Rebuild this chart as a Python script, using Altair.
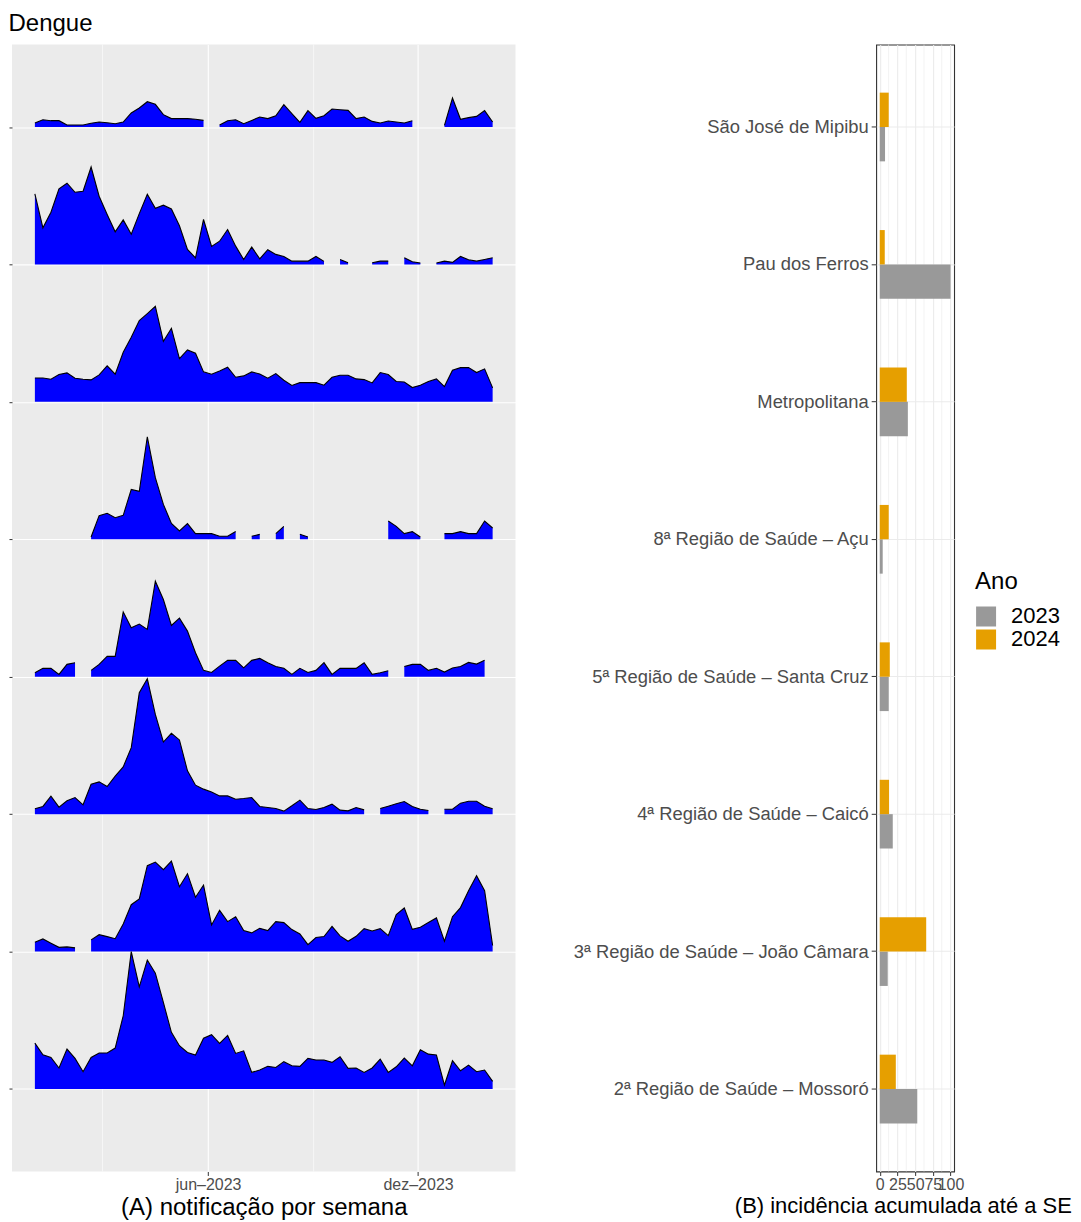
import altair as alt
import pandas as pd

# ---------------- data ----------------
# regions, bottom row first (ridge index 1..8)
regions = [
    "2ª Região de Saúde – Mossoró",
    "3ª Região de Saúde – João Câmara",
    "4ª Região de Saúde – Caicó",
    "5ª Região de Saúde – Santa Cruz",
    "8ª Região de Saúde – Açu",
    "Metropolitana",
    "Pau dos Ferros",
    "São José de Mipibu",
]

# epidemiological weeks (week start dates)
weeks = pd.date_range("2023-01-01", periods=58, freq="7D").strftime("%Y-%m-%d").tolist()

# weekly notifications, relative ridge height (% of row spacing); None = no data
mos = [33.4,24.9,23.0,15.3,29.1,22.3,12.6,23.0,26.2,26.2, 29.8,53.3,100.0,74.3,93.9,84.3,63.0,41.2,31.5,26.6,
       24.7,37.0,39.5,33.2,39.0,25.9,27.8,12.1,13.8,16.5, 15.7,19.9,16.9,16.5,22.3,21.1,21.1,19.4,23.5,15.0,
       15.3,12.1,15.3,21.8,12.1,16.2,22.5,16.9,28.6,25.4, 24.7,2.9,20.6,13.3,17.4,12.6,13.8,5.6]
jca = [6.8,9.2,6.1,3.1,3.4,2.7,None,8.5,12.3,10.9, 9.4,20.1,34.1,38.3,62.5,65.1,59.6,65.9,47.2,56.7,
       39.5,48.4,19.4,30.0,21.8,25.4,15.3,13.6,16.9,15.3, 21.8,21.1,16.0,12.8,5.1,10.2,10.9,18.4,11.4,7.5,
       11.1,16.7,15.0,16.7,11.6,26.9,31.7,16.2,17.7,21.1, 24.5,7.5,25.4,32.0,44.3,55.2,44.3,4.4]
cai = [3.9,5.6,13.1,5.1,9.7,12.1,6.8,21.8,23.5,20.1, 27.6,34.4,48.4,88.4,98.5,72.6,52.5,58.8,54.0,31.5,
       21.1,18.2,16.2,13.3,13.3,10.9,11.4,12.1,5.6,4.8, 4.1,2.2,6.1,10.2,4.1,3.4,4.8,7.3,2.9,2.4,
       4.8,3.1,None,4.1,5.8,7.5,9.2,5.6,3.6,2.7, None,3.6,3.6,8.0,9.4,9.4,5.8,3.9]
scz = [2.9,6.1,6.1,1.7,9.0,10.2,None,4.6,9.0,14.8, 14.8,47.2,35.6,38.3,34.4,69.5,56.2,37.3,42.6,33.2,
       17.4,4.6,3.1,7.7,11.9,11.9,6.5,11.9,13.3,10.2, 7.5,6.1,1.7,6.1,3.1,4.6,10.2,1.7,6.1,6.1,
       6.1,10.2,1.7,2.9,4.4,None,7.5,9.0,9.0,4.6, 6.1,3.4,6.3,7.5,10.4,9.2,11.9,None]
acu = [None,2.4,None,5.6,None,3.6,None,1.7,17.2,18.9, 15.7,17.4,36.3,34.9,74.6,44.8,25.4,11.6,6.1,11.4,
       4.1,4.1,4.1,2.2,2.2,5.6,None,2.2,3.6,None, 4.1,9.4,None,3.6,1.7,None,3.6,None,None,None,
       3.6,None,3.6,None,13.3,9.4,4.1,5.6,1.7,None, None,4.1,4.1,5.6,4.1,4.1,13.3,8.2]
met = [17.4,17.4,16.5,19.9,21.1,17.2,16.5,16.0,19.6,26.2, 20.1,36.1,47.0,59.1,64.2,69.5,44.1,53.5,31.5,37.8,
       35.4,21.8,20.1,22.5,25.2,17.9,18.9,21.8,20.3,17.2, 20.6,15.7,11.9,14.0,14.0,14.0,12.1,17.9,19.4,19.4,
       16.7,16.2,13.8,21.3,19.9,14.8,14.5,10.4,12.1,14.8, 16.7,11.1,23.0,24.9,24.9,21.3,24.0,10.2]
pdf_ = [51.3,26.6,38.0,55.0,59.1,52.5,53.3,70.9,49.6,36.3, 23.7,32.4,22.0,37.0,51.1,40.9,43.1,40.4,28.1,10.9,
        4.8,32.7,13.1,16.9,25.4,13.3,3.6,12.6,4.1,10.7, 7.3,5.8,2.4,2.4,2.4,5.8,2.2,None,3.6,1.2,
        None,None,1.2,2.4,2.4,None,4.8,1.9,1.0,None, 1.0,2.4,1.5,5.8,3.4,2.4,3.6,4.8]
sjm = [2.9,5.3,4.6,4.6,1.5,1.5,1.5,2.7,3.6,3.1, 2.4,3.6,10.2,13.8,18.4,16.5,9.0,6.1,6.1,6.1,
       5.6,4.8,None,1.5,4.6,5.3,2.4,4.8,7.3,6.1, 8.2,16.2,9.7,3.4,11.9,6.3,8.2,13.1,12.6,12.1,
       6.1,7.3,4.1,2.9,4.4,3.6,2.9,4.6,None,4.1, None,1.2,21.1,5.6,6.8,7.7,11.9,3.6]
series = [mos, jca, cai, scz, acu, met, pdf_, sjm]

# cumulative incidence (same region order)
inc_2023 = [53.0, 11.3, 18.4, 12.7, 4.2, 39.7, 100.0, 7.5]
inc_2024 = [22.7, 65.6, 13.2, 14.2, 12.7, 38.2, 7.1, 12.7]
anos = ["2023", "2024"]
ano_colors = ["#999999", "#E69F00"]

tick_dates = ["2023-06-01", "2023-12-01"]
tick_labels = ["jun–2023", "dez–2023"]
minor_dates = ["2023-03-01", "2023-09-01"]
inc_ticks = [0, 25, 50, 75, 100]
inc_minor = [12.5, 37.5, 62.5, 87.5]

FONT = "Liberation Sans"

# ---------------- tables ----------------
rows = []
for k, (reg, vals) in enumerate(zip(regions, series)):
    idx = k + 1
    for d, v in zip(weeks, vals):
        rows.append({"region": reg, "date": d, "y0": idx,
                     "y": (idx + v / 100.0) if v is not None else None})
ridge_df = pd.DataFrame(rows)

bar_rows = []
for reg, a, b in zip(regions, inc_2023, inc_2024):
    bar_rows.append({"region": reg, "Ano": anos[0], "inc": a})
    bar_rows.append({"region": reg, "Ano": anos[1], "inc": b})
bar_df = pd.DataFrame(bar_rows)

def ms(s):
    return int(pd.Timestamp(s, tz="UTC").value // 10**6)

t0, t1 = pd.Timestamp(weeks[0], tz="UTC"), pd.Timestamp(weeks[-1], tz="UTC")
pad = (t1 - t0) * 0.05
x_domain = [int((t0 - pad).value // 10**6), int((t1 + pad).value // 10**6)]
tick_ts = [ms(d) for d in tick_dates]
label_expr = ""
for ts, lab in zip(tick_ts, tick_labels):
    label_expr += f"time(datum.value) == {ts} ? '{lab}' : "
label_expr += "''"

# ---------------- left panel: ridgelines ----------------
xscale = alt.Scale(type="utc", domain=x_domain)
xaxis_left = alt.Axis(values=tick_ts, labelExpr=label_expr, grid=True,
                      gridColor="white", gridWidth=1.1, domain=False,
                      tickColor="#333333", tickSize=4, tickWidth=1,
                      labelColor="#4D4D4D", labelFontSize=16, labelPadding=1,
                      labelFlush=False, labelOverlap=False,
                      title="(A) notificação por semana", titleFontSize=24,
                      titleFontWeight="normal", titleColor="black", titlePadding=3)
yscale = alt.Scale(domain=[0.4, 8.6], nice=False, zero=False)
yaxis_left = alt.Axis(values=list(range(1, 9)), labels=False, grid=True,
                      gridColor="white", gridWidth=1.1, domain=False,
                      tickColor="#333333", tickSize=3, tickWidth=1, title=None)

base = alt.Chart(ridge_df)

minor_left = alt.Chart(pd.DataFrame({"date": minor_dates})).mark_rule(
    color="white", strokeWidth=0.6
).encode(x=alt.X("date:T", scale=xscale, axis=xaxis_left))

area = base.mark_area(color="#0000FF", invalid="break-paths-show-domains").encode(
    x=alt.X("date:T", scale=xscale, axis=xaxis_left),
    y=alt.Y("y:Q", scale=yscale, axis=yaxis_left),
    y2="y0:Q",
    detail="region:N",
)
ridge_line = base.mark_line(color="black", strokeWidth=1.1,
                            invalid="break-paths-show-domains").encode(
    x=alt.X("date:T", scale=xscale, axis=xaxis_left),
    y=alt.Y("y:Q", scale=yscale, axis=yaxis_left),
    detail="region:N",
)
left = alt.layer(minor_left, area, ridge_line).properties(
    width=504, height=1128,
    view=alt.ViewBackground(fill="#EBEBEB", strokeWidth=0),
)

# ---------------- right panel: bars ----------------
top_to_bottom = regions[::-1]
xinc = alt.Scale(domain=[-5, 105], nice=False, zero=False)
xaxis_right = alt.Axis(values=inc_ticks, grid=True, gridColor="#EBEBEB", gridWidth=1.1,
                       domain=False, tickColor="#333333", tickSize=4, tickWidth=1,
                       labelColor="#4D4D4D", labelFontSize=16, labelPadding=1,
                       labelFlush=False, labelOverlap=False,
                       title="(B) incidência acumulada até a SE", titleFontSize=22,
                       titleFontWeight="normal", titleColor="black", titlePadding=3,
                       titleAlign="left", titleX=-142)

minor_right = alt.Chart(pd.DataFrame({"inc": inc_minor})).mark_rule(
    color="#EBEBEB", strokeWidth=0.6
).encode(x=alt.X("inc:Q", scale=xinc, axis=xaxis_right))

bars = alt.Chart(bar_df).mark_bar().encode(
    x=alt.X("inc:Q", scale=xinc, stack=False, axis=xaxis_right),
    y=alt.Y("region:N", sort=top_to_bottom,
            scale=alt.Scale(paddingInner=0, paddingOuter=0.1),
            axis=alt.Axis(title=None, labelFontSize=18.4, labelColor="#4D4D4D",
                          labelPadding=3, labelLimit=0, tickColor="#333333", tickSize=5,
                          tickWidth=1, grid=True, gridColor="#EBEBEB", gridWidth=1.1,
                          domain=False, bandPosition=0.5)),
    yOffset=alt.YOffset("Ano:N", sort=anos[::-1],
                        scale=alt.Scale(paddingInner=0, paddingOuter=1)),
    color=alt.Color("Ano:N", scale=alt.Scale(domain=anos, range=ano_colors),
                    legend=alt.Legend(title="Ano", orient="none", legendX=964, legendY=526,
                                      titleFontSize=24, titleFontWeight="normal",
                                      titleColor="black", labelFontSize=22,
                                      labelColor="black", symbolType="square",
                                      symbolSize=400, symbolStrokeWidth=0,
                                      labelOffset=14, titlePadding=12, rowPadding=0,
                                      clipHeight=21)),
)
right = alt.layer(minor_right, bars).properties(
    width=78, height=1128,
    view=alt.ViewBackground(fill="white", stroke="#333333", strokeWidth=1.1),
)

chart = alt.hconcat(left, right, spacing=57).properties(
    title=alt.TitleParams("Dengue", anchor="start", fontSize=24, fontWeight="normal",
                          color="black", offset=8),
    padding={"left": 0, "top": 3, "right": 0, "bottom": 0},
).configure(font=FONT).configure_axis(labelFont=FONT, titleFont=FONT).configure_legend(
    labelFont=FONT, titleFont=FONT).configure_title(font=FONT)

chart.save("out.html", embed_options={"renderer": "svg", "actions": False})
